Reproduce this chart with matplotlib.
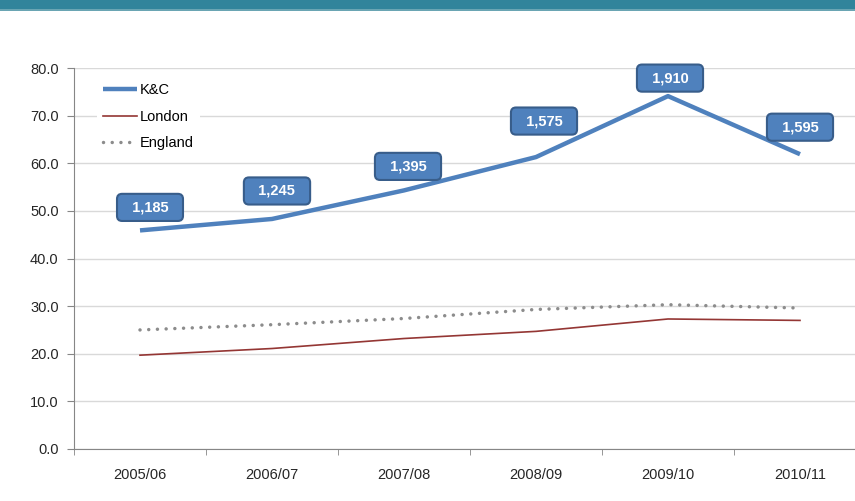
import matplotlib.pyplot as plt
import matplotlib.patches as patches
import numpy as np

plt.rcParams['font.family'] = ['Liberation Sans', 'DejaVu Sans']

years = ['2005/06', '2006/07', '2007/08', '2008/09', '2009/10', '2010/11']
kc = [45.9, 48.3, 54.3, 61.3, 74.1, 61.9]
london = [19.7, 21.1, 23.2, 24.7, 27.3, 27.0]
england = [25.0, 26.1, 27.4, 29.3, 30.3, 29.6]
kc_counts = ['1,185', '1,245', '1,395', '1,575', '1,910', '1,595']
# label box offsets in pixels from each K&C point
label_offsets = [(10, 23), (5, 28), (4, 24), (8, 36), (2, 18), (0, 27)]

fig = plt.figure(figsize=(8.55, 5.01), dpi=100)

# teal header band
fig.patches.append(patches.Rectangle((0, 1 - 9 / 501), 1, 9 / 501, transform=fig.transFigure,
                                     facecolor='#31849b', edgecolor='none'))
fig.patches.append(patches.Rectangle((0, 1 - 10.5 / 501), 1, 1.5 / 501, transform=fig.transFigure,
                                     facecolor='#6aa5b3', edgecolor='none'))

left, bottom = 74 / 855, (501 - 449) / 501
width, height = 792 / 855, 381 / 501
ax = fig.add_axes([left, bottom, width, height])

x = np.arange(len(years))
ax.plot(x, kc, color='#4f81bd', lw=3.2, label='K&C', solid_capstyle='butt')
ax.plot(x, london, color='#943634', lw=1.2, label='London')
ax.plot(x, england, color='#8c8c8c', lw=2.5, ls=(0, (0.01, 2.5)), dash_capstyle='round', label='England')

for xi, yi, txt, (dx, dy) in zip(x, kc, kc_counts, label_offsets):
    ax.annotate('  ' + txt + '  ', (xi, yi), xytext=(dx, dy), textcoords='offset pixels',
                ha='center', va='center', color='white', fontweight='bold', fontsize=10.5,
                bbox=dict(boxstyle='round,pad=0.45,rounding_size=0.35', fc='#4f81bd', ec='#385d8a', lw=1.5))

ax.set_xlim(-0.5, 5.5)
ax.set_ylim(0, 80)
ax.set_yticks(np.arange(0, 81, 10))
ax.set_yticklabels([f'{v:.1f}' for v in np.arange(0, 81, 10)])
ax.set_xticks(x)
ax.set_xticklabels(years)
ax.set_xticks(np.arange(-0.5, 5.6, 1), minor=True)
ax.tick_params(axis='x', which='major', length=0, pad=14, labelsize=10.5, colors='#262626')
ax.tick_params(axis='x', which='minor', length=4, color='#868686', direction='out')
ax.tick_params(axis='y', length=5, color='#868686', pad=6, labelsize=10.5, colors='#262626')
ax.grid(axis='y', color='#d9d9d9', lw=1)
ax.set_axisbelow(True)
for s in ['top', 'right']:
    ax.spines[s].set_visible(False)
for s in ['left', 'bottom']:
    ax.spines[s].set_color('#868686')

leg = ax.legend(loc='upper left', bbox_to_anchor=(0.02, 0.994), frameon=True, fontsize=10.5,
                handlelength=2.35, handletextpad=0.2, labelspacing=0.85, borderpad=0.4)
leg.get_frame().set_facecolor('white')
leg.get_frame().set_edgecolor('none')
leg.get_frame().set_alpha(1)

fig.savefig('out.png', dpi=100)
